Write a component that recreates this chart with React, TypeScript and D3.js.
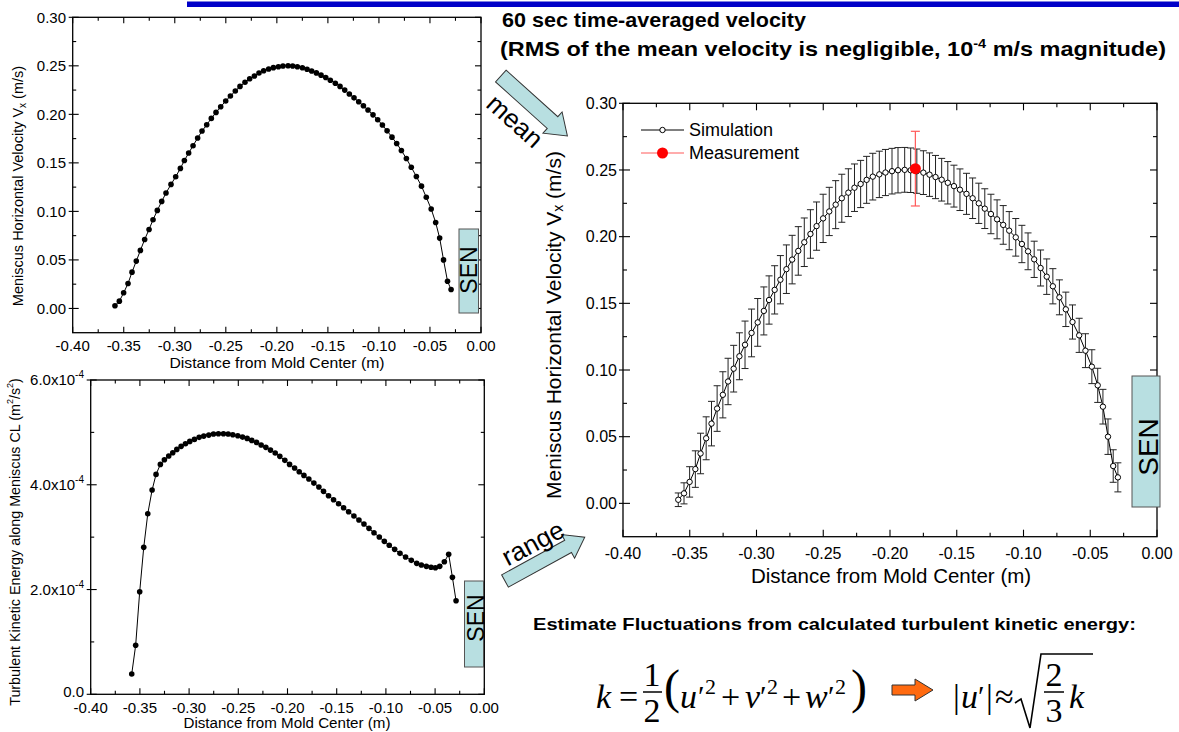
import React from "react";
import * as d3 from "d3";

// ---------------- data ----------------
const VEL_X = [
  -0.3586, -0.3543, -0.3501, -0.3458, -0.3419, -0.3377, -0.3337, -0.3295, -0.3252, -0.3213,
  -0.3171, -0.3128, -0.3086, -0.3037, -0.2991, -0.2945, -0.2906, -0.2864, -0.2821, -0.2776,
  -0.2733, -0.2687, -0.2642, -0.2596, -0.255, -0.2501, -0.2455, -0.2407, -0.2361, -0.2312,
  -0.2266, -0.222, -0.2175, -0.2129, -0.208, -0.2034, -0.1985, -0.194, -0.189, -0.1845,
  -0.1799, -0.175, -0.1704, -0.1659, -0.1613, -0.1567, -0.1521, -0.1476, -0.1427, -0.1381,
  -0.1335, -0.129, -0.1244, -0.1198, -0.1152, -0.1107, -0.1058, -0.1012, -0.0966, -0.092,
  -0.0872, -0.0826, -0.078, -0.0731, -0.0683, -0.0633, -0.0583, -0.0536, -0.0488, -0.0444,
  -0.0405, -0.0367, -0.0328, -0.0293,
];
const VEL_Y = [
  0.0027, 0.0075, 0.0161, 0.0257, 0.0374, 0.0488, 0.0598, 0.0711, 0.0814, 0.0914,
  0.101, 0.1103, 0.1189, 0.1278, 0.1357, 0.1443, 0.1525, 0.1601, 0.1677, 0.1756,
  0.1828, 0.1893, 0.1958, 0.202, 0.2079, 0.2137, 0.2189, 0.224, 0.2288, 0.233,
  0.2367, 0.2395, 0.2426, 0.245, 0.2467, 0.2481, 0.2491, 0.2498, 0.2501, 0.2498,
  0.2491, 0.248, 0.2465, 0.2447, 0.2427, 0.2404, 0.2379, 0.2352, 0.2321, 0.2288,
  0.225, 0.221, 0.217, 0.213, 0.2088, 0.2045, 0.1995, 0.1945, 0.189, 0.183,
  0.1765, 0.17, 0.1628, 0.1545, 0.1455, 0.136, 0.126, 0.1145, 0.1025, 0.0885,
  0.0725, 0.05, 0.028, 0.0195,
];
const VEL_ERR = [
  0.0051, 0.0079, 0.0114, 0.0137, 0.0152, 0.0161, 0.0167, 0.0171, 0.0173, 0.0174,
  0.0175, 0.0176, 0.0178, 0.0179, 0.0179, 0.018, 0.0181, 0.0181, 0.0181, 0.0182,
  0.0182, 0.0182, 0.0182, 0.0182, 0.0181, 0.0181, 0.0181, 0.018, 0.018, 0.0179,
  0.0178, 0.0177, 0.0176, 0.0175, 0.0174, 0.0173, 0.0171, 0.017, 0.0168, 0.0167,
  0.0166, 0.0164, 0.0163, 0.0162, 0.016, 0.0159, 0.0157, 0.0156, 0.0154, 0.0152,
  0.0151, 0.0149, 0.0148, 0.0146, 0.0145, 0.0143, 0.0141, 0.014, 0.0138, 0.0136,
  0.0135, 0.0133, 0.0132, 0.0131, 0.0129, 0.0128, 0.0128, 0.0127, 0.0127, 0.0128,
  0.013, 0.0133, 0.0122, 0.0109,
];
const TKE_X = [
  -0.3583, -0.3543, -0.3502, -0.3461, -0.342, -0.3376, -0.3336, -0.3292, -0.3251, -0.3207,
  -0.3166, -0.3125, -0.3081, -0.3037, -0.2993, -0.2946, -0.2898, -0.2851, -0.28, -0.2752,
  -0.2702, -0.2651, -0.2603, -0.2556, -0.2505, -0.2457, -0.241, -0.2363, -0.2315, -0.2268,
  -0.222, -0.2173, -0.2125, -0.2078, -0.2027, -0.1979, -0.1928, -0.1881, -0.1833, -0.1783,
  -0.1732, -0.1681, -0.1634, -0.1583, -0.1532, -0.1481, -0.143, -0.1379, -0.1325, -0.1274,
  -0.1223, -0.1172, -0.1121, -0.1067, -0.1016, -0.0966, -0.0911, -0.0857, -0.08, -0.0742,
  -0.0687, -0.064, -0.0589, -0.0541, -0.0497, -0.0453, -0.0406, -0.0362, -0.0324, -0.0287,
];
// turbulent kinetic energy, in units of 1e-4 m^2/s^2
const TKE_K = [
  0.387, 0.935, 1.958, 2.805, 3.447, 3.899, 4.198, 4.389, 4.477, 4.548,
  4.611, 4.675, 4.733, 4.783, 4.828, 4.866, 4.905, 4.929, 4.948, 4.968,
  4.974, 4.974, 4.968, 4.955, 4.936, 4.91, 4.885, 4.847, 4.809, 4.758,
  4.714, 4.662, 4.605, 4.542, 4.466, 4.389, 4.319, 4.248, 4.179, 4.109,
  4.032, 3.956, 3.874, 3.79, 3.714, 3.637, 3.561, 3.485, 3.403, 3.326,
  3.25, 3.168, 3.084, 3.002, 2.92, 2.844, 2.767, 2.691, 2.62, 2.557,
  2.5, 2.468, 2.443, 2.424, 2.416, 2.443, 2.531, 2.672, 2.233, 1.786,
];
const MEAS_X = [-0.181];
const MEAS_Y = [0.251];
const MEAS_ERR = [0.028];

const X_TICKS = [-0.4, -0.35, -0.3, -0.25, -0.2, -0.15, -0.1, -0.05, 0];
const X_LABELS = ["-0.40", "-0.35", "-0.30", "-0.25", "-0.20", "-0.15", "-0.10", "-0.05", "0.00"];
const X_MINOR = [-0.375, -0.325, -0.275, -0.225, -0.175, -0.125, -0.075, -0.025];
const V_TICKS = [0, 0.05, 0.1, 0.15, 0.2, 0.25, 0.3];
const V_LABELS = ["0.00", "0.05", "0.10", "0.15", "0.20", "0.25", "0.30"];
const V_MINOR = [0.025, 0.075, 0.125, 0.175, 0.225, 0.275];
const K_TICKS = [0, 2, 4, 6];
const K_LABELS = ["0.0", "2.0x10", "4.0x10", "6.0x10"];
const K_EXP = ["", "-4", "-4", "-4"];
const K_MINOR = [1, 3, 5];

const SANS = '"Liberation Sans", Arial, Helvetica, sans-serif';
const SERIF = '"Liberation Serif", "Times New Roman", serif';
const SEN_FILL = "#b8dfe1";

type Scale = d3.ScaleLinear<number, number>;

function Frame({ xs, ys, xMaj, xMin, yMaj, yMin, maj, min }: any) {
  const [xl, xr] = xs.range();
  const [yb, yt] = ys.range();
  const segs: number[][] = [];
  xMaj.forEach((v: number) => {
    const p = xs(v);
    segs.push([p, yb, p, yb - maj], [p, yt, p, yt + maj]);
  });
  xMin.forEach((v: number) => {
    const p = xs(v);
    segs.push([p, yb, p, yb - min], [p, yt, p, yt + min]);
  });
  yMaj.forEach((v: number) => {
    const p = ys(v);
    segs.push([xl - 4, p, xl + maj, p], [xr, p, xr - maj, p]);
  });
  yMin.forEach((v: number) => {
    const p = ys(v);
    segs.push([xl, p, xl + min, p], [xr, p, xr - min, p]);
  });
  return (
    <g stroke="#000" fill="none">
      <rect x={xl} y={yt} width={xr - xl} height={yb - yt} strokeWidth={1.3} />
      {segs.map((s, i) => (
        <line key={i} x1={s[0]} y1={s[1]} x2={s[2]} y2={s[3]} strokeWidth={1.1} />
      ))}
    </g>
  );
}

function Arrow({ x, y, angle, len, sw, hw, hl, fill }: any) {
  const pts = [
    [0, -sw], [len - hl, -sw], [len - hl, -hw], [len, 0], [len - hl, hw], [len - hl, sw], [0, sw],
  ];
  return (
    <polygon
      points={pts.map((p) => p.join(",")).join(" ")}
      transform={`translate(${x},${y}) rotate(${angle})`}
      fill={fill}
      stroke="#333"
      strokeWidth={1}
    />
  );
}

function SenBox({ x, y, w, h, fs, cx, cy }: any) {
  return (
    <g>
      <rect x={x} y={y} width={w} height={h} fill={SEN_FILL} stroke="#555" strokeWidth={1} />
      <text
        x={cx}
        y={cy}
        transform={`rotate(-90,${cx},${cy})`}
        textAnchor="middle"
        dominantBaseline="central"
        fontFamily={SANS}
        fontSize={fs}
        fill="#000"
      >
        SEN
      </text>
    </g>
  );
}

export default function App() {
  // top-left: velocity
  const xs1: Scale = d3.scaleLinear().domain([-0.4, 0]).range([72.7, 481]);
  const ys1: Scale = d3.scaleLinear().domain([-0.025, 0.3]).range([332.7, 17.3]);
  // bottom-left: TKE
  const xs2: Scale = d3.scaleLinear().domain([-0.4, 0]).range([90.7, 484.3]);
  const ys2: Scale = d3.scaleLinear().domain([0, 6]).range([694.3, 380]);
  // right: velocity with error bars
  const xs3: Scale = d3.scaleLinear().domain([-0.4, 0]).range([623, 1157]);
  const ys3: Scale = d3.scaleLinear().domain([-0.025, 0.3]).range([536.7, 103.3]);

  const line1 = d3.line<number>().x((_, i) => xs1(VEL_X[i])).y((d) => ys1(d))(VEL_Y) || "";
  const line2 = d3.line<number>().x((_, i) => xs2(TKE_X[i])).y((d) => ys2(d))(TKE_K) || "";
  const line3 = d3.line<number>().x((_, i) => xs3(VEL_X[i])).y((d) => ys3(d))(VEL_Y) || "";

  return (
    <svg
      width={1179}
      height={732}
      style={{ position: "absolute", left: 0, top: 0, background: "#fff" }}
      fontFamily={SANS}
    >
      <rect x={0} y={0} width={1179} height={732} fill="#fff" />
      {/* top blue bar */}
      <rect x={187} y={1.5} width={992} height={5.5} fill="#0000c8" />

      {/* titles */}
      <text x={502} y={27} fontSize={21} fontWeight="bold" textLength={304} lengthAdjust="spacingAndGlyphs">
        60 sec time-averaged velocity
      </text>
      <text x={500} y={56} fontSize={21} fontWeight="bold" textLength={666} lengthAdjust="spacingAndGlyphs">
        (RMS of the mean velocity is negligible, 10<tspan dy={-8} fontSize={13}>-4</tspan>
        <tspan dy={8}> m/s magnitude)</tspan>
      </text>

      {/* ============ top-left chart ============ */}
      <Frame xs={xs1} ys={ys1} xMaj={X_TICKS} xMin={X_MINOR} yMaj={V_TICKS} yMin={V_MINOR} maj={6} min={3.5} />
      {V_TICKS.map((v, i) => (
        <text key={i} x={66} y={ys1(v)} dy="0.35em" textAnchor="end" fontSize={15}>
          {V_LABELS[i]}
        </text>
      ))}
      {X_TICKS.map((v, i) => (
        <text key={i} x={xs1(v)} y={351} textAnchor="middle" fontSize={15}>
          {X_LABELS[i]}
        </text>
      ))}
      <text x={277} y={368} textAnchor="middle" fontSize={14.5} textLength={215} lengthAdjust="spacingAndGlyphs">
        Distance from Mold Center (m)
      </text>
      <text x={18} y={186} transform="rotate(-90,18,186)" textAnchor="middle" dominantBaseline="central" fontSize={14.5}>
        Meniscus Horizontal Velocity V<tspan fontSize={10} dy={4}>x</tspan>
        <tspan dy={-4}> (m/s)</tspan>
      </text>
      <SenBox x={459} y={229} w={19.5} h={84} fs={23} cx={469} cy={270} />
      <path d={line1} fill="none" stroke="#000" strokeWidth={1} />
      {VEL_Y.map((v, i) => (
        <circle key={i} cx={xs1(VEL_X[i])} cy={ys1(v)} r={2.8} fill="#000" />
      ))}

      {/* ============ bottom-left chart ============ */}
      <Frame xs={xs2} ys={ys2} xMaj={X_TICKS} xMin={X_MINOR} yMaj={K_TICKS} yMin={K_MINOR} maj={6} min={3.5} />
      {K_TICKS.map((v, i) => (
        <text key={i} x={84} y={ys2(v) - (i === 0 ? 3 : 0)} dy="0.35em" textAnchor="end" fontSize={15}>
          {K_LABELS[i]}
          {K_EXP[i] ? (
            <tspan dy={-7} fontSize={10}>
              {K_EXP[i]}
            </tspan>
          ) : null}
        </text>
      ))}
      {X_TICKS.map((v, i) => (
        <text key={i} x={xs2(v)} y={713} textAnchor="middle" fontSize={15}>
          {X_LABELS[i]}
        </text>
      ))}
      <text x={287} y={727.5} textAnchor="middle" fontSize={14} textLength={207} lengthAdjust="spacingAndGlyphs">
        Distance from Mold Center (m)
      </text>
      <text x={15} y={542} transform="rotate(-90,15,542)" textAnchor="middle" dominantBaseline="central" fontSize={14.3}>
        Turbulent Kinetic Energy along Meniscus CL (m<tspan fontSize={9} dy={-5}>2</tspan>
        <tspan dy={5}>/s</tspan>
        <tspan fontSize={9} dy={-5}>2</tspan>
        <tspan dy={5}>)</tspan>
      </text>
      <SenBox x={464.5} y={581} w={19} h={86} fs={23} cx={476} cy={618} />
      <path d={line2} fill="none" stroke="#000" strokeWidth={1} />
      {TKE_K.map((v, i) => (
        <circle key={i} cx={xs2(TKE_X[i])} cy={ys2(v)} r={2.8} fill="#000" />
      ))}

      {/* ============ arrows ============ */}
      <Arrow x={500.8} y={76} angle={42} len={89.6} sw={7.9} hw={14.3} hl={20} fill={SEN_FILL} />
      <text x={515} y={121} transform="rotate(42,515,121)" textAnchor="middle" dominantBaseline="central" fontSize={26}>
        mean
      </text>
      <Arrow x={505} y={581} angle={-28.8} len={91} sw={7} hw={13.5} hl={19} fill={SEN_FILL} />
      <text x={533} y={543} transform="rotate(-28,533,543)" textAnchor="middle" dominantBaseline="central" fontSize={26}>
        range
      </text>

      {/* ============ right chart ============ */}
      <Frame xs={xs3} ys={ys3} xMaj={X_TICKS} xMin={X_MINOR} yMaj={V_TICKS} yMin={V_MINOR} maj={7} min={4} />
      {V_TICKS.map((v, i) => (
        <text key={i} x={617} y={ys3(v)} dy="0.35em" textAnchor="end" fontSize={16}>
          {V_LABELS[i]}
        </text>
      ))}
      {X_TICKS.map((v, i) => (
        <text key={i} x={xs3(v)} y={559} textAnchor="middle" fontSize={16}>
          {X_LABELS[i]}
        </text>
      ))}
      <text x={891} y={583} textAnchor="middle" fontSize={20.5}>
        Distance from Mold Center (m)
      </text>
      <text x={553} y={325} transform="rotate(-90,553,325)" textAnchor="middle" dominantBaseline="central" fontSize={21}>
        Meniscus Horizontal Velocity V<tspan fontSize={14} dy={5}>x</tspan>
        <tspan dy={-5}> (m/s)</tspan>
      </text>
      <SenBox x={1132} y={376} w={28} h={131} fs={28} cx={1148} cy={447} />

      {/* error bars */}
      <g stroke="#222" strokeWidth={1}>
        {VEL_Y.map((v, i) => {
          const cx = xs3(VEL_X[i]);
          const t = ys3(v + VEL_ERR[i]);
          const b = ys3(v - VEL_ERR[i]);
          return (
            <g key={i}>
              <line x1={cx} x2={cx} y1={t} y2={b} />
              <line x1={cx - 3.5} x2={cx + 3.5} y1={t} y2={t} />
              <line x1={cx - 3.5} x2={cx + 3.5} y1={b} y2={b} />
            </g>
          );
        })}
      </g>
      <path d={line3} fill="none" stroke="#000" strokeWidth={1} />
      {VEL_Y.map((v, i) => (
        <circle key={i} cx={xs3(VEL_X[i])} cy={ys3(v)} r={2.7} fill="#fff" stroke="#000" strokeWidth={1} />
      ))}
      {/* measurement */}
      {MEAS_Y.map((v, i) => {
        const cx = xs3(MEAS_X[i]);
        const t = ys3(v + MEAS_ERR[i]);
        const b = ys3(v - MEAS_ERR[i]);
        return (
          <g key={i}>
            <g stroke="#ff5a5a" strokeWidth={1.2}>
              <line x1={cx} x2={cx} y1={t} y2={b} />
              <line x1={cx - 4.5} x2={cx + 4.5} y1={t} y2={t} />
              <line x1={cx - 4.5} x2={cx + 4.5} y1={b} y2={b} />
            </g>
            <circle cx={cx} cy={ys3(v)} r={5.5} fill="#ff0000" />
          </g>
        );
      })}
      {/* legend */}
      <line x1={641} x2={684} y1={130} y2={130} stroke="#000" strokeWidth={1} />
      <circle cx={662.5} cy={130} r={2.7} fill="#fff" stroke="#000" strokeWidth={1} />
      <text x={689} y={130} dy="0.35em" fontSize={18}>
        Simulation
      </text>
      <line x1={641} x2={684} y1={153} y2={153} stroke="#ff5a5a" strokeWidth={1.2} />
      <circle cx={662.5} cy={153} r={5.5} fill="#ff0000" />
      <text x={689} y={153} dy="0.35em" fontSize={18}>
        Measurement
      </text>

      {/* ============ equation ============ */}
      <text x={533} y={630} fontSize={17} fontWeight="bold" textLength={603} lengthAdjust="spacingAndGlyphs">
        Estimate Fluctuations from calculated turbulent kinetic energy:
      </text>
      <g fontFamily={SERIF} fontSize={34} fill="#000">
        <text x={596} y={708} fontStyle="italic">k</text>
        <text x={619} y={708}>=</text>
        <text x={652} y={686} textAnchor="middle">1</text>
        <line x1={643} x2={662} y1={692} y2={692} stroke="#000" strokeWidth={1.5} />
        <text x={652} y={722} textAnchor="middle">2</text>
        <text x={664} y={703} fontSize={48}>(</text>
        <text x={680} y={708} fontStyle="italic">u</text>
        <text x={698} y={706} fontSize={30}>′</text>
        <text x={705} y={694} fontSize={22}>2</text>
        <text x={721} y={708}>+</text>
        <text x={745} y={708} fontStyle="italic">v</text>
        <text x={760} y={706} fontSize={30}>′</text>
        <text x={767} y={694} fontSize={22}>2</text>
        <text x={782} y={708}>+</text>
        <text x={805} y={708} fontStyle="italic">w</text>
        <text x={828} y={706} fontSize={30}>′</text>
        <text x={835} y={694} fontSize={22}>2</text>
        <text x={851} y={703} fontSize={48}>)</text>

        <text x={953} y={708}>|</text>
        <text x={961} y={708} fontStyle="italic">u</text>
        <text x={978} y={706} fontSize={30}>′</text>
        <text x={986} y={708}>|</text>
        <text x={995} y={708}>≈</text>
        <path d="M1015,703 L1021,699 L1030,728 L1041,654 L1093,654" fill="none" stroke="#000" strokeWidth={1.6} />
        <text x={1054} y={686} textAnchor="middle">2</text>
        <line x1={1044} x2={1064} y1={692} y2={692} stroke="#000" strokeWidth={1.5} />
        <text x={1054} y={722} textAnchor="middle">3</text>
        <text x={1069} y={708} fontStyle="italic">k</text>
      </g>
      <polygon
        points="892,685 915,685 915,679 933,690 915,701 915,695 892,695"
        fill="#ff6a10"
        stroke="#333"
        strokeWidth={1}
      />
    </svg>
  );
}
